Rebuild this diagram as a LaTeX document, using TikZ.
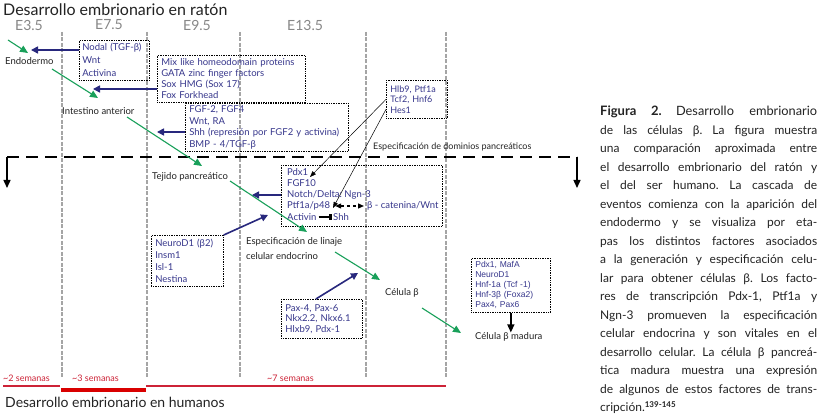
\documentclass[tikz,border=0pt]{standalone}
\usepackage{fontspec}
\setmainfont{Lato}
\newfontfamily\arialf{Liberation Sans}
\usetikzlibrary{arrows.meta}
\definecolor{navytxt}{RGB}{55,55,140}
\definecolor{navyarr}{RGB}{40,40,125}
\definecolor{grn}{RGB}{25,160,90}
\definecolor{redc}{RGB}{205,35,55}
\definecolor{linegray}{RGB}{165,165,165}
\definecolor{egray}{RGB}{135,135,135}
\definecolor{txtgray}{RGB}{35,35,35}
\newcommand\capline[1]{\makebox[217pt][s]{#1}}
\frenchspacing

\begin{document}
\begin{tikzpicture}[x=1pt,y=-1pt,
  lbl/.style={anchor=west,inner sep=0pt,text=txtgray,font=\fontsize{9.5}{11}\selectfont},
  big/.style={anchor=west,inner sep=0pt,text=txtgray,font=\fontsize{15}{17}\selectfont},
  etxt/.style={anchor=west,inner sep=0pt,text=egray,font=\fontsize{14}{16}\selectfont},
  wk/.style={anchor=west,inner sep=0pt,text=redc,font=\fontsize{9}{10}\selectfont},
  fbox/.style={draw,densely dotted,line width=.7pt,anchor=north west,align=left,text=navytxt,
    inner xsep=4pt,inner ysep=0pt,font=\fontsize{9.5}{11}\selectfont},
  btxt/.style={anchor=west,inner sep=0pt,align=left,text=navytxt,font=\fontsize{9.5}{11}\selectfont},
  vline/.style={draw=linegray,dash pattern=on 4pt off 1.5pt,line width=1.3pt},
  garr/.style={-{Triangle[length=8pt,width=7pt]},draw=grn,line width=1.1pt},
  barr/.style={-{Triangle[length=7pt,width=7pt]},draw=navyarr,line width=1.6pt},
  karr/.style={-{Triangle[length=6pt,width=4.5pt]},line width=.5pt},
  darr/.style={-{Triangle[length=8pt,width=7pt]},line width=1.4pt},
  redl/.style={draw=redc,line width=2.2pt}]
\useasboundingbox[fill=white] (0,0) rectangle (820,414);

\foreach \x in {62,147,240,366,446}{
\draw[vline] (\x,32) -- (\x,378);
}

\node[big,font=\fontsize{16}{18}\selectfont] (mouse) at (3,10) {Desarrollo embrionario en ratón};
\node[big,font=\fontsize{14}{16}\selectfont] (human) at (5,402) {Desarrollo embrionario en humanos};
\foreach \x/\t/\n in {15/E3.5/ea,95/E7.5/eb,183/E9.5/ec,287/E13.5/ed}{
\node[etxt] (\n) at (\x,25) {\t};
}

\coordinate (dl) at (7,157);
\coordinate (dr) at (577,157);
\draw[line width=2.6pt,dash pattern=on 12pt off 7pt] (dl) -- (dr);
\draw[darr] (dl) -- ++(0,31);
\draw[darr] (dr) -- ++(0,31);
\node[lbl,font=\fontsize{9}{11}\selectfont] (dom) at (373,147) {Especificación de dominios pancreáticos};

\node[lbl] (endo) at (5,61) {Endodermo};
\node[lbl] (intest) at (62,111) {Intestino anterior};
\node[lbl] (tejido) at (152,177) {Tejido pancreático};
\node[lbl,align=left,font=\fontsize{9.5}{15}\selectfont] (linaje) at (246,249) {Especificación de linaje\\celular endocrino};
\node[lbl] (celb) at (385,293) {Célula β};
\node[lbl] (madura) at (475,337) {Célula β madura};

\node[fbox,inner xsep=3pt,font=\fontsize{9.5}{13}\selectfont,minimum width=70pt,minimum height=40pt,text width=64pt] (nodal) at (79,40) {Nodal (TGF-β)\\Wnt\\Activina};
\node[fbox,minimum width=148pt,minimum height=47pt,text width=140pt] (mix) at (157,55) {Mix like homeodomain proteins\\GATA zinc finger factors\\Sox HMG (Sox 17)\\Fox Forkhead};
\node[fbox,font=\fontsize{9.5}{11.5}\selectfont,minimum width=163pt,minimum height=48pt,text width=155pt] (fgf) at (185,103) {FGF-2, FGF4\\Wnt, RA\\Shh (represión por FGF2 y activina)\\BMP - 4/TGF-β};
\node[fbox,font=\fontsize{9}{10.5}\selectfont,minimum width=61pt,minimum height=38pt,text width=53pt] (hlb) at (386,80) {Hlb9, Ptf1a\\Tcf2, Hnf6\\Hes1};
\node[fbox,minimum width=161pt,minimum height=61pt] (pdx) at (281,165) {};
\node[btxt] (pdxt) at (287,184) {Pdx1\\FGF10\\Notch/Delta: Ngn-3};
\node[btxt] (ptf) at (287,206) {Ptf1a/p48};
\node[btxt] (bcat) at (367,206) {β - catenina/Wnt};
\node[btxt] (actv) at (287,217) {Activin};
\node[btxt] (shh) at (333,217) {Shh};
\node[fbox,font=\fontsize{9.5}{12}\selectfont,minimum width=72pt,minimum height=51pt,text width=64pt] (neuro) at (151,235) {NeuroD1 (β2)\\Insm1\\Isl-1\\Nestina};
\node[fbox,font=\fontsize{9.5}{10.5}\selectfont,minimum width=81pt,minimum height=39pt,text width=73pt] (pax) at (281,299) {Pax-4, Pax-6\\Nkx2.2, Nkx6.1\\Hlxb9, Pdx-1};
\node[fbox,font=\arialf\fontsize{8.5}{10}\selectfont,minimum width=79pt,minimum height=54pt,text width=71pt] (mafa) at (471,258) {Pdx1, MafA\\NeuroD1\\Hnf-1a (Tcf -1)\\Hnf-3β (Foxa2)\\Pax4, Pax6};

\coordinate (g1a) at (8,40);    \coordinate (g1b) at (28,53);
\coordinate (g2a) at (52,69);   \coordinate (g2b) at (98,98);
\coordinate (g3a) at (127,117); \coordinate (g3b) at (202,166);
\coordinate (g4a) at (230,181); \coordinate (g4b) at (307,232);
\coordinate (g5a) at (335,252); \coordinate (g5b) at (380,280);
\coordinate (g6a) at (422,308); \coordinate (g6b) at (461,333);
\foreach \i in {1,...,6}{
\draw[garr] (g\i a) -- (g\i b);
}

\coordinate (b1) at (31,50);
\coordinate (b2) at (93,89);
\coordinate (b3) at (157,132);
\coordinate (b4) at (252,195);
\draw[barr] (nodal.west |- b1) -- (b1);
\draw[barr] (mix.west |- b2) -- (b2);
\draw[barr] (fgf.west |- b3) -- (b3);
\draw[barr] (pdx.west |- b4) -- (b4);
\draw[barr] (neuro.north east) -- (268,215);
\draw[barr] ([xshift=-6pt]pax.north) -- (358,273);

\draw[karr] (hlb.west) -- (310,177);
\draw[karr] ([yshift=-10pt]hlb.west) -- (333,208);
\draw[karr,{Triangle[length=6pt,width=5pt]}-{Triangle[length=6pt,width=5pt]},line width=1.2pt,dashed] ([xshift=5pt]ptf.east) -- ([xshift=-3pt]bcat.west);
\draw[line width=1.1pt,-{Rectangle[length=3pt,width=6pt]}] ([xshift=2pt]actv.east) -- ([xshift=-1pt]shh.west);
\draw[darr,line width=1.3pt] (mafa.south) -- (mafa.south |- madura.north);

\draw[redl] (3,386) -- (60,386);
\draw[redl,line width=4pt,draw=red!85!black] (61,389.5) -- (146,389.5);
\draw[redl] (146,386) -- (446,386);
\node[wk] (w2) at (3,378) {\textasciitilde2 semanas};
\node[wk] (w3) at (72,378) {\textasciitilde3 semanas};
\node[wk] (w7) at (267,378) {\textasciitilde7 semanas};

\node[anchor=north west,inner sep=0pt,align=left,text=txtgray,font=\fontsize{12}{18.5}\selectfont] (capt) at (600,106) {%
\capline{{\fontsize{13}{18.5}\selectfont\bfseries Figura 2.} {\fontsize{12.8}{18.5}\selectfont Desarrollo embrionario}}\\
\capline{de las células β. La figura muestra}\\
\capline{una comparación aproximada entre}\\
\capline{el desarrollo embrionario del ratón y}\\
\capline{el del ser humano. La cascada de}\\
\capline{eventos comienza con la aparición del}\\
\capline{endodermo y se visualiza por eta-}\\
\capline{pas los distintos factores asociados}\\
\capline{a la generación y especificación celu-}\\
\capline{lar para obtener células β. Los facto-}\\
\capline{res de transcripción Pdx-1, Ptf1a y}\\
\capline{Ngn-3 promueven la especificación}\\
\capline{celular endocrina y son vitales en el}\\
\capline{desarrollo celular. La célula β pancreá-}\\
\capline{tica madura muestra una expresión}\\
\capline{de algunos de estos factores de trans-}\\
cripción.\textsuperscript{\bfseries 139-145}};
\end{tikzpicture}
\end{document}
